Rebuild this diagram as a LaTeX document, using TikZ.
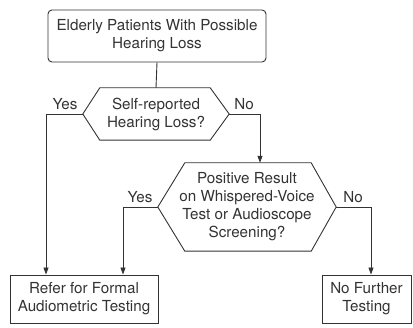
\documentclass[tikz,border=0pt]{standalone}
\usepackage{fontspec}
\setmainfont{TeX Gyre Heros}
\usetikzlibrary{arrows.meta}
\begin{document}
\begin{tikzpicture}[x=1pt,y=-1pt,
  every node/.style={font=\fontsize{15.2}{18}\selectfont, text=black!80, align=center, inner sep=0pt},
  box/.style={draw=black!80, line width=0.9pt, minimum height=48pt},
  conn/.style={draw=black!80, line width=0.9pt},
  arr/.style={conn, -{Triangle[width=5pt,length=7pt]}},
  lbl/.style={font=\fontsize{15.2}{18}\selectfont}
]
\useasboundingbox (0,0) rectangle (413,328);
\node[box, rounded corners=4pt, minimum width=218pt, minimum height=52pt] (top) at (157,36) {Elderly Patients With Possible\\Hearing Loss};
\node[minimum width=146pt, minimum height=52pt] (h1) at (156,114) {Self-reported\\Hearing Loss?};
\node[minimum width=178pt, minimum height=88pt] (h2) at (247,207) {Positive Result\\on Whispered-Voice\\Test or Audioscope\\Screening?};
\node[box, minimum width=148pt] (bl) at (84,299) {Refer for Formal\\Audiometric Testing};
\node[box, minimum width=89pt] (br) at (366.5,299) {No Further\\Testing};
\draw[conn] (h1.west) -- ([xshift=17pt]h1.north west) -- ([xshift=-19pt]h1.north east) -- (h1.east) -- ([xshift=-19pt]h1.south east) -- ([xshift=17pt]h1.south west) -- cycle;
\draw[conn] (h2.west) -- ([xshift=27pt]h2.north west) -- ([xshift=-25pt]h2.north east) -- (h2.east) -- ([xshift=-25pt]h2.south east) -- ([xshift=27pt]h2.south west) -- cycle;
\draw[conn] (top.south) -- (h1.north);
\draw[arr] (h1.west) -| ([xshift=-38pt]bl.north);
\draw[arr] (h1.east) -| ([xshift=13pt]h2.north);
\draw[arr] (h2.west) -| ([xshift=39pt]bl.north);
\draw[arr] (h2.east) -| ([xshift=4.5pt]br.north);
\node[lbl] (y1) at (65,104) {Yes};
\node[lbl] (n1) at (244,104) {No};
\node[lbl] (y2) at (140,197) {Yes};
\node[lbl] (n2) at (353,197) {No};
\end{tikzpicture}
\end{document}
